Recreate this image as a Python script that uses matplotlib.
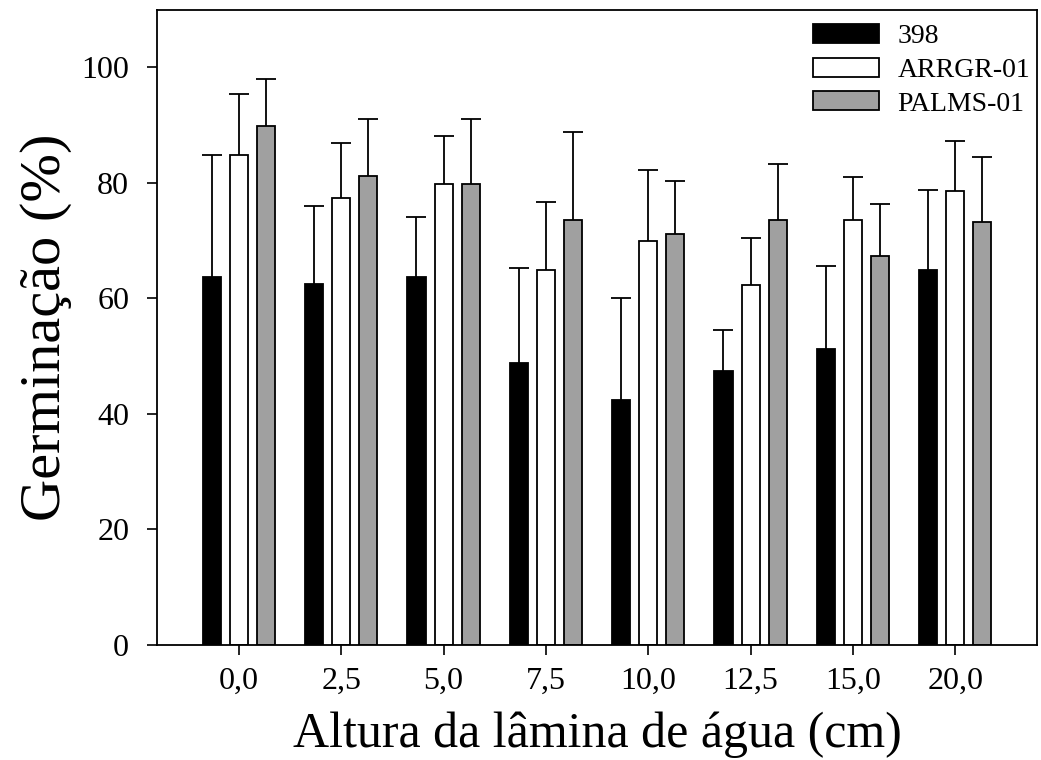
import numpy as np
import matplotlib
matplotlib.use("Agg")
import matplotlib.pyplot as plt

plt.rcParams["font.family"] = ["Liberation Serif", "DejaVu Serif"]

# data
categories = ["0,0", "2,5", "5,0", "7,5", "10,0", "12,5", "15,0", "20,0"]
series = ["398", "ARRGR-01", "PALMS-01"]
mean_398 = [63.7, 62.5, 63.7, 48.8, 42.4, 47.5, 51.2, 64.9]
err_398 = [21.1, 13.5, 10.3, 16.5, 17.7, 7.0, 14.4, 13.8]
mean_arr = [84.8, 77.3, 79.8, 64.9, 69.9, 62.3, 73.6, 78.6]
err_arr = [10.5, 9.6, 8.3, 11.7, 12.3, 8.1, 7.4, 8.6]
mean_pal = [89.8, 81.1, 79.8, 73.6, 71.1, 73.6, 67.4, 73.2]
err_pal = [8.2, 10.0, 11.2, 15.2, 9.3, 9.7, 8.9, 11.3]

means = [mean_398, mean_arr, mean_pal]
errs = [err_398, err_arr, err_pal]
colours = ["black", "white", "#a0a0a0"]

fig = plt.figure(figsize=(10.41, 7.6), dpi=100)
ax = fig.add_axes([0.1508, 0.1513, 0.8454, 0.8362])

x = np.arange(len(categories))
width = 0.176
offset = 0.264

for i, (m, e, col, name) in enumerate(zip(means, errs, colours, series)):
    xpos = x + (i - 1) * offset
    ax.bar(xpos, m, width=width, color=col, edgecolor="black", linewidth=1.3,
           label=name, zorder=2)
    m = np.array(m)
    e = np.array(e)
    # upward error bars only: hide the lower cap
    _, caps, _ = ax.errorbar(xpos, m, yerr=[np.zeros_like(e), e], fmt="none",
                             ecolor="black", elinewidth=1.3, capsize=7,
                             capthick=1.3, zorder=1)
    caps[0].set_visible(False)

ax.set_xlim(-0.8, 7.8)
ax.set_ylim(0, 110)
ax.set_yticks([0, 20, 40, 60, 80, 100])
ax.set_xticks(x)
ax.set_xticklabels(categories)
ax.tick_params(axis="both", direction="out", length=7, width=1.2, labelsize=23)
ax.tick_params(axis="y", pad=13)
ax.tick_params(axis="x", pad=9)
for s in ax.spines.values():
    s.set_linewidth(1.3)

ax.set_xlabel("Altura da lâmina de água (cm)", fontsize=36, labelpad=11)
ax.set_ylabel("Germinação (%)", fontsize=42, labelpad=7)

ax.legend(loc="upper right", bbox_to_anchor=(1.0, 0.988), frameon=False,
          fontsize=20, handlelength=2.4, handleheight=0.68, labelspacing=0.3,
          handletextpad=0.65, borderaxespad=0.0, borderpad=0.25)

fig.savefig("out.png", dpi=100)
